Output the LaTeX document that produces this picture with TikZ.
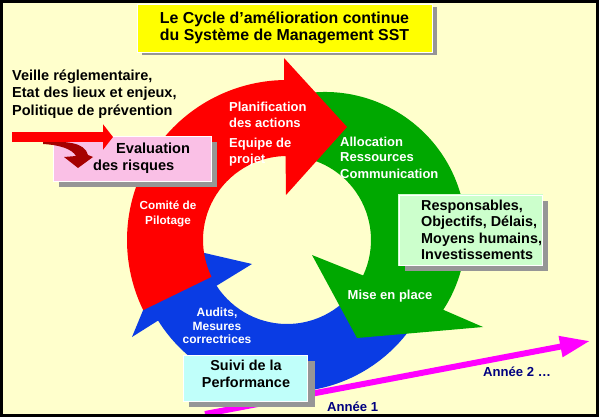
\documentclass[tikz,border=0pt]{standalone}
\usepackage{fontspec}
\setmainfont{Liberation Sans}
\usetikzlibrary{arrows.meta,shadows,calc}
\definecolor{sstcream}{RGB}{255,255,204}
\definecolor{sstyellow}{RGB}{255,255,0}
\definecolor{sstred}{RGB}{255,0,0}
\definecolor{sstdarkred}{RGB}{165,0,0}
\definecolor{sstgreen}{RGB}{0,168,0}
\definecolor{sstblue}{RGB}{10,60,228}
\definecolor{sstpink}{RGB}{250,192,230}
\definecolor{sstcyan}{RGB}{192,255,250}
\definecolor{sstmint}{RGB}{204,255,204}
\definecolor{sstshadow}{RGB}{150,150,150}
\definecolor{sstnavy}{RGB}{0,0,128}
\definecolor{sstmagenta}{RGB}{255,0,255}
\newcommand{\sstfont}[2]{\fontsize{#1}{#2}\selectfont\bfseries}
\tikzset{
  titlebox/.style={fill=sstyellow, draw=white, line width=0.8pt, align=center, inner sep=0pt,
    minimum width=295pt, minimum height=48pt, font=\sstfont{15.9}{17.7},
    general shadow={fill=sstshadow, shadow xshift=5pt, shadow yshift=-3.5pt}},
  infobox/.style={draw=white, line width=1pt, inner sep=0pt,
    general shadow={fill=sstshadow, shadow xshift=5.5pt, shadow yshift=-5.5pt}},
  arrowtext/.style={text=white, inner sep=0pt},
  boxtext/.style={text=black, inner sep=0pt, align=left},
  yeartext/.style={text=sstnavy, inner sep=0pt, font=\sstfont{13.1}{15}},
  yeararrow/.style={draw=sstmagenta, line width=6pt, -{Triangle[length=30pt,width=20pt]}},
  feedarrow/.style={draw=sstred, line width=10pt, -{Triangle[length=10pt,width=25pt]}}
}
\begin{document}
\begin{tikzpicture}[x=1pt,y=1pt]
  \useasboundingbox (0,0) rectangle (599,-417);
  \fill[sstcream] (0,0) rectangle (599,-417);

  \coordinate (C) at (287,-240);
  \coordinate (G) at (325,-233);

  % the three arrows of the cycle
  \fill[sstblue] ($(C)+(325:152)$) arc[start angle=325, end angle=212, radius=152]
    -- (132,-337) -- (170,-245) -- (252,-264)
    -- ($(C)+(213:84)$) arc[start angle=213, end angle=315, radius=84] -- cycle;
  \fill[sstgreen] ($(C)+(80:84)$) -- ($(G)+(100:141)$) arc[start angle=100, end angle=-33, radius=141]
    -- (483,-327) -- (357,-338) -- (312,-255)
    -- ($(C)+(-25:84)$) arc[start angle=-25, end angle=80, radius=84] -- cycle;
  \fill[sstred] ($(C)+(206:84)$) -- ($(C)+(206:160)$) arc[start angle=206, end angle=91, radius=160]
    -- (284,-58) -- (347,-127) -- (286,-195)
    -- ($(C)+(91:84)$) arc[start angle=91, end angle=206, radius=84] -- cycle;

  \node[arrowtext, anchor=north west, align=left, font=\sstfont{13}{16}] (plan) at (229,-101.5)
    {Planification\\des actions\\[4pt]Equipe de\\projet};
  \node[arrowtext, anchor=north west, align=left, font=\sstfont{13}{15}] (alloc) at (340,-136.5)
    {Allocation\\Ressources\\[2pt]Communication};
  \node[arrowtext, anchor=north, align=center, font=\sstfont{11.7}{15}] (comite) at (168,-200.5)
    {Comité de\\Pilotage};
  \node[arrowtext, anchor=north, align=center, font=\sstfont{12}{13.5}] (audits) at (217,-308)
    {Audits,\\Mesures\\correctrices};
  \node[arrowtext, anchor=base, font=\sstfont{13}{15}] (mise) at (390,-299) {Mise en place};

  % years
  \coordinate (yearstart) at (205,-414);
  \coordinate (yearend) at (590,-341);
  \draw[yeararrow] (yearstart) -- (yearend);

  % boxes
  \node[titlebox] (title) at (284.5,-28)
    {Le Cycle d’amélioration continue\\du Système de Management SST};
  \node[boxtext, anchor=north west, font=\sstfont{14.5}{17.5}] (veille) at (12,-69.5)
    {Veille réglementaire,\\Etat des lieux et enjeux,\\Politique de prévention};

  \node[infobox, fill=sstpink, minimum width=158pt, minimum height=45pt] (evalbox) at (132,-158.5) {};
  \fill[sstdarkred] (43,-142) .. controls (65,-141) and (85,-142) .. (88,-155)
    -- (93,-157) -- (78,-168) -- (64,-157) -- (76,-156)
    .. controls (72,-149) and (60,-145) .. (43,-144) -- cycle;
  \coordinate (veillestart) at (12,-137);
  \coordinate (veilleend) at (113,-137);
  \draw[feedarrow] (veillestart) -- (veilleend);
  \node[boxtext, anchor=north west, font=\sstfont{14.6}{17}] (evaltext) at (93,-142.6)
    {\hspace*{23pt}Evaluation\\des risques};

  \node[infobox, fill=sstmint, draw=sstmint, double=white, double distance=1pt, line width=0.8pt,
    minimum width=143pt, minimum height=70pt] (respbox) at (470.5,-230) {};
  \node[boxtext, anchor=north west, font=\sstfont{14.4}{16.5}] (resptext) at (421,-199.5)
    {Responsables,\\Objectifs, Délais,\\Moyens humains,\\Investissements};

  \node[infobox, fill=sstcyan, minimum width=124pt, minimum height=46pt,
    general shadow={fill=sstshadow, shadow xshift=8pt, shadow yshift=-6pt}] (suivibox) at (245,-378) {};
  \node[boxtext, anchor=north, align=center, font=\sstfont{14.4}{17}] (suivitext) at (246,-359.5)
    {Suivi de la\\Performance};

  \node[yeartext, anchor=base west] (annee1) at (327,-411) {Année 1};
  \node[yeartext, anchor=base west] (annee2) at (483,-376) {Année 2 …};

  % frame
  \draw[black, line width=3pt] (1.5,-1.5) rectangle (597.5,-415.5);
\end{tikzpicture}
\end{document}
